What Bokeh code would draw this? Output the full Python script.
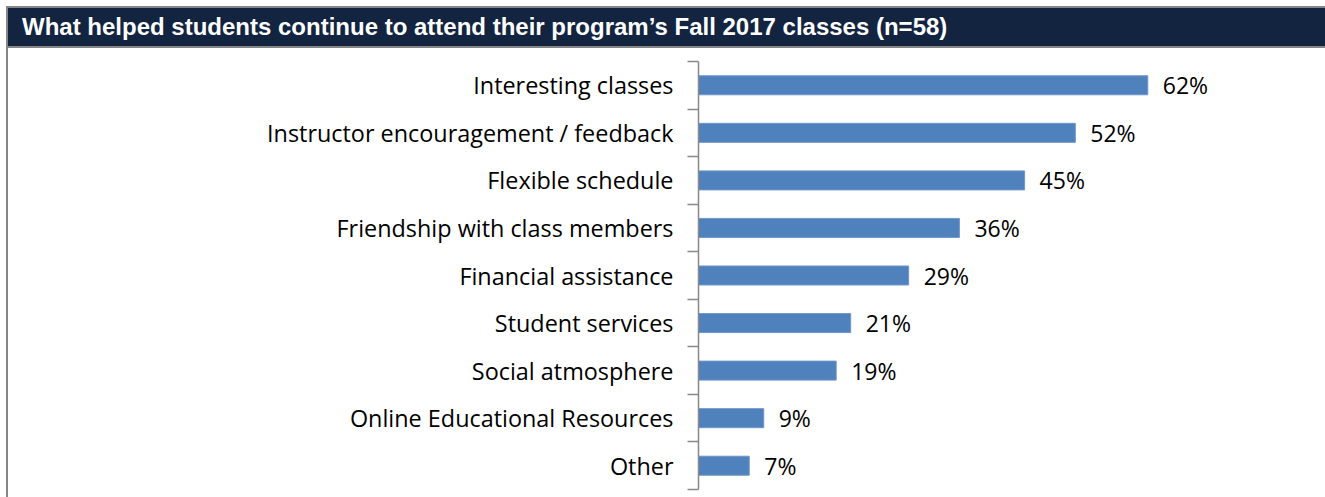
from bokeh.plotting import figure
from bokeh.models import Div, Range1d, FixedTicker, ColumnDataSource
from bokeh.layouts import column
from bokeh.embed import file_html
from bokeh.resources import INLINE
from bokeh.core.properties import value

title_text = "What helped students continue to attend their program\u2019s Fall 2017 classes (n=58)"
categories = [
    "Interesting classes",
    "Instructor encouragement / feedback",
    "Flexible schedule",
    "Friendship with class members",
    "Financial assistance",
    "Student services",
    "Social atmosphere",
    "Online Educational Resources",
    "Other",
]
values = [62, 52, 45, 36, 29, 21, 19, 9, 7]

n = len(categories)
ypos = [n - i - 0.5 for i in range(n)]
labels = [f"{v}%" for v in values]

src = ColumnDataSource(dict(y=ypos, v=values, lab=labels))

W = 1319
div = Div(
    text=title_text,
    width=W, height=42, margin=(6, 0, 0, 6),
    styles={
        "background-color": "#12243f",
        "color": "white",
        "font-family": "'Liberation Sans', Arial, sans-serif",
        "font-weight": "bold",
        "font-size": "24px",
        "line-height": "37px",
        "padding-left": "14px",
        "box-sizing": "border-box",
        "border-top": "2px solid #858585",
        "border-left": "2px solid #858585",
        "border-bottom": "2px solid #858585",
        "white-space": "nowrap",
        "overflow": "hidden",
    },
)

p = figure(
    width=W, height=449, margin=(0, 0, 0, 6),
    x_range=Range1d(0, 86.8), y_range=Range1d(0, n),
    output_backend="svg", toolbar_location=None,
    min_border_left=690, min_border_right=0, min_border_top=13, min_border_bottom=8,
    styles={"border-left": "2px solid #858585"},
)
p.xaxis.visible = False
p.xgrid.visible = False
p.ygrid.visible = False
p.outline_line_color = None
p.background_fill_color = "white"
p.border_fill_color = "white"

p.hbar(y="y", right="v", left=0, height=0.4, source=src,
       fill_color="#4F81BD", line_color="#6f97c9", line_width=1)
p.text(x="v", y="y", text="lab", source=src, x_offset=15,
       text_baseline="middle", text_align="left",
       text_font=value("Open Sans"), text_font_size="23px", text_color="#000000")

yax = p.yaxis[0]
yax.ticker = FixedTicker(ticks=ypos, minor_ticks=list(range(n + 1)))
yax.major_label_overrides = {y: c for y, c in zip(ypos, categories)}
yax.major_tick_line_color = None
yax.major_tick_out = 0
yax.major_tick_in = 0
yax.minor_tick_out = 11
yax.minor_tick_in = 0
yax.minor_tick_line_color = "#898989"
yax.minor_tick_line_width = 1.5
yax.axis_line_color = "#898989"
yax.axis_line_width = 1.5
yax.major_label_standoff = 14
yax.major_label_text_font = "Open Sans"
yax.major_label_text_font_size = "23.4px"
yax.major_label_text_color = "#000000"
yax.major_label_text_font_style = "normal"

layout = column(div, p, spacing=0)
open("out.html", "w").write(file_html(layout, INLINE))
